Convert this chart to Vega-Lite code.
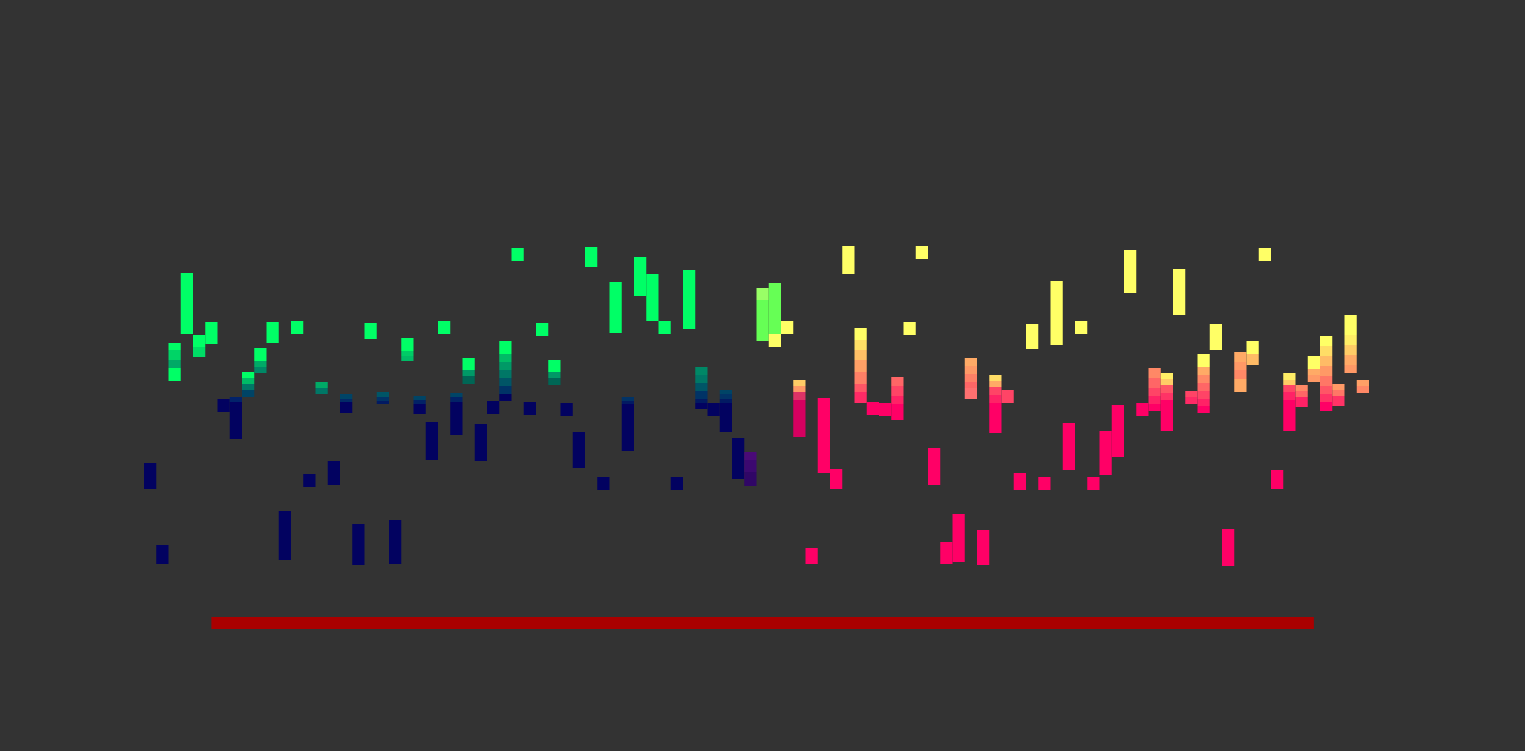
{
  "$schema": "https://vega.github.io/schema/vega-lite/v6.json",
  "width": 1525,
  "height": 751,
  "autosize": {"type": "fit", "contains": "padding"},
  "padding": 0,
  "background": "#333333",
  "config": {"view": {"stroke": null}},
  "datasets": {
    "notes": [
      {"col": 0, "colEnd": 1, "top": 463, "bottom": 489, "hex": "#020260"},
      {"col": 1, "colEnd": 2, "top": 545, "bottom": 564, "hex": "#020260"},
      {"col": 2, "colEnd": 3, "top": 343, "bottom": 350, "hex": "#00ff66"},
      {"col": 2, "colEnd": 3, "top": 350, "bottom": 360, "hex": "#00d466"},
      {"col": 2, "colEnd": 3, "top": 360, "bottom": 368, "hex": "#00aa66"},
      {"col": 2, "colEnd": 3, "top": 368, "bottom": 381, "hex": "#00ff66"},
      {"col": 3, "colEnd": 4, "top": 273, "bottom": 334, "hex": "#00ff66"},
      {"col": 4, "colEnd": 5, "top": 335, "bottom": 347, "hex": "#00ff66"},
      {"col": 4, "colEnd": 5, "top": 347, "bottom": 357, "hex": "#00dd66"},
      {"col": 5, "colEnd": 6, "top": 322, "bottom": 344, "hex": "#00ff66"},
      {"col": 6, "colEnd": 7, "top": 399, "bottom": 412, "hex": "#020260"},
      {"col": 7, "colEnd": 8, "top": 397, "bottom": 402, "hex": "#02226a"},
      {"col": 7, "colEnd": 8, "top": 402, "bottom": 439, "hex": "#020260"},
      {"col": 8, "colEnd": 9, "top": 372, "bottom": 378, "hex": "#00ff66"},
      {"col": 8, "colEnd": 9, "top": 378, "bottom": 384, "hex": "#00bb66"},
      {"col": 8, "colEnd": 9, "top": 384, "bottom": 390, "hex": "#007766"},
      {"col": 8, "colEnd": 9, "top": 390, "bottom": 397, "hex": "#004466"},
      {"col": 9, "colEnd": 10, "top": 348, "bottom": 361, "hex": "#00ff66"},
      {"col": 9, "colEnd": 10, "top": 361, "bottom": 367, "hex": "#00aa66"},
      {"col": 9, "colEnd": 10, "top": 367, "bottom": 373, "hex": "#008866"},
      {"col": 10, "colEnd": 11, "top": 322, "bottom": 343, "hex": "#00ff66"},
      {"col": 11, "colEnd": 12, "top": 511, "bottom": 560, "hex": "#020260"},
      {"col": 12, "colEnd": 13, "top": 321, "bottom": 334, "hex": "#00ff66"},
      {"col": 13, "colEnd": 14, "top": 474, "bottom": 487, "hex": "#020260"},
      {"col": 14, "colEnd": 15, "top": 382, "bottom": 388, "hex": "#00aa66"},
      {"col": 14, "colEnd": 15, "top": 388, "bottom": 394, "hex": "#007766"},
      {"col": 15, "colEnd": 16, "top": 461, "bottom": 485, "hex": "#020260"},
      {"col": 16, "colEnd": 17, "top": 394, "bottom": 399, "hex": "#004466"},
      {"col": 16, "colEnd": 17, "top": 399, "bottom": 402, "hex": "#022a66"},
      {"col": 16, "colEnd": 17, "top": 402, "bottom": 413, "hex": "#020260"},
      {"col": 17, "colEnd": 18, "top": 524, "bottom": 565, "hex": "#020260"},
      {"col": 18, "colEnd": 19, "top": 323, "bottom": 339, "hex": "#00ff66"},
      {"col": 19, "colEnd": 20, "top": 392, "bottom": 397, "hex": "#005566"},
      {"col": 19, "colEnd": 20, "top": 397, "bottom": 401, "hex": "#023366"},
      {"col": 19, "colEnd": 20, "top": 401, "bottom": 404, "hex": "#021a62"},
      {"col": 20, "colEnd": 21, "top": 520, "bottom": 564, "hex": "#020260"},
      {"col": 21, "colEnd": 22, "top": 338, "bottom": 351, "hex": "#00ff66"},
      {"col": 21, "colEnd": 22, "top": 351, "bottom": 356, "hex": "#00cc66"},
      {"col": 21, "colEnd": 22, "top": 356, "bottom": 361, "hex": "#00bb66"},
      {"col": 22, "colEnd": 23, "top": 396, "bottom": 400, "hex": "#004466"},
      {"col": 22, "colEnd": 23, "top": 400, "bottom": 404, "hex": "#022266"},
      {"col": 22, "colEnd": 23, "top": 404, "bottom": 414, "hex": "#020260"},
      {"col": 23, "colEnd": 24, "top": 422, "bottom": 460, "hex": "#020260"},
      {"col": 24, "colEnd": 25, "top": 321, "bottom": 334, "hex": "#00ff66"},
      {"col": 25, "colEnd": 26, "top": 393, "bottom": 397, "hex": "#004466"},
      {"col": 25, "colEnd": 26, "top": 397, "bottom": 402, "hex": "#022266"},
      {"col": 25, "colEnd": 26, "top": 402, "bottom": 435, "hex": "#020260"},
      {"col": 26, "colEnd": 27, "top": 358, "bottom": 370, "hex": "#00ff66"},
      {"col": 26, "colEnd": 27, "top": 370, "bottom": 376, "hex": "#009966"},
      {"col": 26, "colEnd": 27, "top": 376, "bottom": 384, "hex": "#006655"},
      {"col": 27, "colEnd": 28, "top": 424, "bottom": 461, "hex": "#020260"},
      {"col": 28, "colEnd": 29, "top": 401, "bottom": 414, "hex": "#020260"},
      {"col": 29, "colEnd": 30, "top": 341, "bottom": 354, "hex": "#00ff66"},
      {"col": 29, "colEnd": 30, "top": 354, "bottom": 362, "hex": "#00bb66"},
      {"col": 29, "colEnd": 30, "top": 362, "bottom": 370, "hex": "#009966"},
      {"col": 29, "colEnd": 30, "top": 370, "bottom": 378, "hex": "#007766"},
      {"col": 29, "colEnd": 30, "top": 378, "bottom": 386, "hex": "#005566"},
      {"col": 29, "colEnd": 30, "top": 386, "bottom": 394, "hex": "#003366"},
      {"col": 29, "colEnd": 30, "top": 394, "bottom": 401, "hex": "#020260"},
      {"col": 30, "colEnd": 31, "top": 248, "bottom": 261, "hex": "#00ff66"},
      {"col": 31, "colEnd": 32, "top": 402, "bottom": 415, "hex": "#020260"},
      {"col": 32, "colEnd": 33, "top": 323, "bottom": 336, "hex": "#00ff66"},
      {"col": 33, "colEnd": 34, "top": 360, "bottom": 372, "hex": "#00ff66"},
      {"col": 33, "colEnd": 34, "top": 372, "bottom": 378, "hex": "#009966"},
      {"col": 33, "colEnd": 34, "top": 378, "bottom": 385, "hex": "#006655"},
      {"col": 34, "colEnd": 35, "top": 403, "bottom": 416, "hex": "#020260"},
      {"col": 35, "colEnd": 36, "top": 432, "bottom": 468, "hex": "#020260"},
      {"col": 36, "colEnd": 37, "top": 247, "bottom": 267, "hex": "#00ff66"},
      {"col": 37, "colEnd": 38, "top": 477, "bottom": 490, "hex": "#020260"},
      {"col": 38, "colEnd": 39, "top": 282, "bottom": 333, "hex": "#00ff66"},
      {"col": 39, "colEnd": 40, "top": 397, "bottom": 401, "hex": "#023366"},
      {"col": 39, "colEnd": 40, "top": 401, "bottom": 404, "hex": "#021a62"},
      {"col": 39, "colEnd": 40, "top": 404, "bottom": 451, "hex": "#020260"},
      {"col": 40, "colEnd": 41, "top": 257, "bottom": 296, "hex": "#00ff66"},
      {"col": 41, "colEnd": 42, "top": 274, "bottom": 321, "hex": "#00ff66"},
      {"col": 42, "colEnd": 43, "top": 321, "bottom": 334, "hex": "#00ff66"},
      {"col": 43, "colEnd": 44, "top": 477, "bottom": 490, "hex": "#020260"},
      {"col": 44, "colEnd": 45, "top": 270, "bottom": 329, "hex": "#00ff66"},
      {"col": 45, "colEnd": 46, "top": 367, "bottom": 375, "hex": "#008866"},
      {"col": 45, "colEnd": 46, "top": 375, "bottom": 383, "hex": "#007766"},
      {"col": 45, "colEnd": 46, "top": 383, "bottom": 391, "hex": "#005566"},
      {"col": 45, "colEnd": 46, "top": 391, "bottom": 399, "hex": "#003366"},
      {"col": 45, "colEnd": 46, "top": 399, "bottom": 403, "hex": "#021a62"},
      {"col": 45, "colEnd": 46, "top": 403, "bottom": 409, "hex": "#020260"},
      {"col": 46, "colEnd": 47, "top": 403, "bottom": 416, "hex": "#020260"},
      {"col": 47, "colEnd": 48, "top": 390, "bottom": 394, "hex": "#004466"},
      {"col": 47, "colEnd": 48, "top": 394, "bottom": 399, "hex": "#023366"},
      {"col": 47, "colEnd": 48, "top": 399, "bottom": 403, "hex": "#021a62"},
      {"col": 47, "colEnd": 48, "top": 403, "bottom": 432, "hex": "#020260"},
      {"col": 48, "colEnd": 49, "top": 438, "bottom": 479, "hex": "#020260"},
      {"col": 49, "colEnd": 50, "top": 452, "bottom": 460, "hex": "#4a0a78"},
      {"col": 49, "colEnd": 50, "top": 460, "bottom": 472, "hex": "#3c0870"},
      {"col": 49, "colEnd": 50, "top": 472, "bottom": 486, "hex": "#300666"},
      {"col": 50, "colEnd": 51, "top": 288, "bottom": 300, "hex": "#99ff66"},
      {"col": 50, "colEnd": 51, "top": 300, "bottom": 341, "hex": "#66ff55"},
      {"col": 51, "colEnd": 52, "top": 283, "bottom": 334, "hex": "#66ff55"},
      {"col": 51, "colEnd": 52, "top": 334, "bottom": 347, "hex": "#ffff66"},
      {"col": 52, "colEnd": 53, "top": 321, "bottom": 334, "hex": "#ffff66"},
      {"col": 53, "colEnd": 54, "top": 380, "bottom": 386, "hex": "#ffcc66"},
      {"col": 53, "colEnd": 54, "top": 386, "bottom": 392, "hex": "#ff9966"},
      {"col": 53, "colEnd": 54, "top": 392, "bottom": 400, "hex": "#dd3366"},
      {"col": 53, "colEnd": 54, "top": 400, "bottom": 437, "hex": "#d60060"},
      {"col": 54, "colEnd": 55, "top": 548, "bottom": 564, "hex": "#ff0066"},
      {"col": 55, "colEnd": 56, "top": 398, "bottom": 473, "hex": "#ff0066"},
      {"col": 56, "colEnd": 57, "top": 469, "bottom": 489, "hex": "#ff0066"},
      {"col": 57, "colEnd": 58, "top": 246, "bottom": 274, "hex": "#ffff66"},
      {"col": 58, "colEnd": 59, "top": 328, "bottom": 340, "hex": "#ffff66"},
      {"col": 58, "colEnd": 59, "top": 340, "bottom": 350, "hex": "#ffe066"},
      {"col": 58, "colEnd": 59, "top": 350, "bottom": 360, "hex": "#ffc066"},
      {"col": 58, "colEnd": 59, "top": 360, "bottom": 372, "hex": "#ffa066"},
      {"col": 58, "colEnd": 59, "top": 372, "bottom": 384, "hex": "#ff8066"},
      {"col": 58, "colEnd": 59, "top": 384, "bottom": 392, "hex": "#ff5566"},
      {"col": 58, "colEnd": 59, "top": 392, "bottom": 403, "hex": "#ff2a66"},
      {"col": 59, "colEnd": 60, "top": 402, "bottom": 415, "hex": "#ff0066"},
      {"col": 60, "colEnd": 61, "top": 403, "bottom": 416, "hex": "#ff0066"},
      {"col": 61, "colEnd": 62, "top": 377, "bottom": 386, "hex": "#ff6666"},
      {"col": 61, "colEnd": 62, "top": 386, "bottom": 396, "hex": "#ff4466"},
      {"col": 61, "colEnd": 62, "top": 396, "bottom": 404, "hex": "#ff2266"},
      {"col": 61, "colEnd": 62, "top": 404, "bottom": 420, "hex": "#ff0066"},
      {"col": 62, "colEnd": 63, "top": 322, "bottom": 335, "hex": "#ffff66"},
      {"col": 63, "colEnd": 64, "top": 246, "bottom": 259, "hex": "#ffff66"},
      {"col": 64, "colEnd": 65, "top": 448, "bottom": 485, "hex": "#ff0066"},
      {"col": 65, "colEnd": 66, "top": 542, "bottom": 564, "hex": "#ff0066"},
      {"col": 66, "colEnd": 67, "top": 514, "bottom": 562, "hex": "#ff0066"},
      {"col": 67, "colEnd": 68, "top": 358, "bottom": 366, "hex": "#ffaa66"},
      {"col": 67, "colEnd": 68, "top": 366, "bottom": 374, "hex": "#ff9966"},
      {"col": 67, "colEnd": 68, "top": 374, "bottom": 382, "hex": "#ff8066"},
      {"col": 67, "colEnd": 68, "top": 382, "bottom": 388, "hex": "#ff6666"},
      {"col": 67, "colEnd": 68, "top": 388, "bottom": 399, "hex": "#ff7070"},
      {"col": 68, "colEnd": 69, "top": 530, "bottom": 565, "hex": "#ff0066"},
      {"col": 69, "colEnd": 70, "top": 375, "bottom": 381, "hex": "#ffdd66"},
      {"col": 69, "colEnd": 70, "top": 381, "bottom": 387, "hex": "#ffaa66"},
      {"col": 69, "colEnd": 70, "top": 387, "bottom": 395, "hex": "#ff4466"},
      {"col": 69, "colEnd": 70, "top": 395, "bottom": 403, "hex": "#ff2266"},
      {"col": 69, "colEnd": 70, "top": 403, "bottom": 433, "hex": "#ff0066"},
      {"col": 70, "colEnd": 71, "top": 390, "bottom": 403, "hex": "#ff4466"},
      {"col": 71, "colEnd": 72, "top": 473, "bottom": 490, "hex": "#ff0066"},
      {"col": 72, "colEnd": 73, "top": 324, "bottom": 349, "hex": "#ffff66"},
      {"col": 73, "colEnd": 74, "top": 477, "bottom": 490, "hex": "#ff0066"},
      {"col": 74, "colEnd": 75, "top": 281, "bottom": 345, "hex": "#ffff66"},
      {"col": 75, "colEnd": 76, "top": 423, "bottom": 470, "hex": "#ff0066"},
      {"col": 76, "colEnd": 77, "top": 321, "bottom": 334, "hex": "#ffff66"},
      {"col": 77, "colEnd": 78, "top": 477, "bottom": 490, "hex": "#ff0066"},
      {"col": 78, "colEnd": 79, "top": 431, "bottom": 475, "hex": "#ff0066"},
      {"col": 79, "colEnd": 80, "top": 405, "bottom": 457, "hex": "#ff0066"},
      {"col": 80, "colEnd": 81, "top": 250, "bottom": 293, "hex": "#ffff66"},
      {"col": 81, "colEnd": 82, "top": 403, "bottom": 416, "hex": "#ff0066"},
      {"col": 82, "colEnd": 83, "top": 368, "bottom": 378, "hex": "#ff8866"},
      {"col": 82, "colEnd": 83, "top": 378, "bottom": 388, "hex": "#ff6666"},
      {"col": 82, "colEnd": 83, "top": 388, "bottom": 396, "hex": "#ff4466"},
      {"col": 82, "colEnd": 83, "top": 396, "bottom": 404, "hex": "#ff2266"},
      {"col": 82, "colEnd": 83, "top": 404, "bottom": 411, "hex": "#ff0066"},
      {"col": 83, "colEnd": 84, "top": 373, "bottom": 379, "hex": "#ffee66"},
      {"col": 83, "colEnd": 84, "top": 379, "bottom": 385, "hex": "#ffcc66"},
      {"col": 83, "colEnd": 84, "top": 385, "bottom": 393, "hex": "#ff5566"},
      {"col": 83, "colEnd": 84, "top": 393, "bottom": 400, "hex": "#ff3366"},
      {"col": 83, "colEnd": 84, "top": 400, "bottom": 431, "hex": "#ff0066"},
      {"col": 84, "colEnd": 85, "top": 269, "bottom": 315, "hex": "#ffff66"},
      {"col": 85, "colEnd": 86, "top": 391, "bottom": 397, "hex": "#ff4466"},
      {"col": 85, "colEnd": 86, "top": 397, "bottom": 404, "hex": "#ff2a66"},
      {"col": 86, "colEnd": 87, "top": 354, "bottom": 367, "hex": "#ffff66"},
      {"col": 86, "colEnd": 87, "top": 367, "bottom": 375, "hex": "#ffaa66"},
      {"col": 86, "colEnd": 87, "top": 375, "bottom": 383, "hex": "#ff8866"},
      {"col": 86, "colEnd": 87, "top": 383, "bottom": 391, "hex": "#ff6666"},
      {"col": 86, "colEnd": 87, "top": 391, "bottom": 399, "hex": "#ff4466"},
      {"col": 86, "colEnd": 87, "top": 399, "bottom": 406, "hex": "#ff2266"},
      {"col": 86, "colEnd": 87, "top": 406, "bottom": 413, "hex": "#ff0066"},
      {"col": 87, "colEnd": 88, "top": 324, "bottom": 350, "hex": "#ffff66"},
      {"col": 88, "colEnd": 89, "top": 529, "bottom": 566, "hex": "#ff0066"},
      {"col": 89, "colEnd": 90, "top": 352, "bottom": 362, "hex": "#ffaa66"},
      {"col": 89, "colEnd": 90, "top": 362, "bottom": 370, "hex": "#ff9966"},
      {"col": 89, "colEnd": 90, "top": 370, "bottom": 379, "hex": "#ff8866"},
      {"col": 89, "colEnd": 90, "top": 379, "bottom": 392, "hex": "#ffaa66"},
      {"col": 90, "colEnd": 91, "top": 341, "bottom": 354, "hex": "#ffff66"},
      {"col": 90, "colEnd": 91, "top": 354, "bottom": 365, "hex": "#ffbb66"},
      {"col": 91, "colEnd": 92, "top": 248, "bottom": 261, "hex": "#ffff66"},
      {"col": 92, "colEnd": 93, "top": 470, "bottom": 489, "hex": "#ff0066"},
      {"col": 93, "colEnd": 94, "top": 373, "bottom": 380, "hex": "#ffee66"},
      {"col": 93, "colEnd": 94, "top": 380, "bottom": 385, "hex": "#ffcc66"},
      {"col": 93, "colEnd": 94, "top": 385, "bottom": 392, "hex": "#ff4466"},
      {"col": 93, "colEnd": 94, "top": 392, "bottom": 400, "hex": "#ff2266"},
      {"col": 93, "colEnd": 94, "top": 400, "bottom": 431, "hex": "#ff0066"},
      {"col": 94, "colEnd": 95, "top": 385, "bottom": 391, "hex": "#ff8866"},
      {"col": 94, "colEnd": 95, "top": 391, "bottom": 397, "hex": "#ff6666"},
      {"col": 94, "colEnd": 95, "top": 397, "bottom": 407, "hex": "#ff2266"},
      {"col": 95, "colEnd": 96, "top": 356, "bottom": 369, "hex": "#ffff66"},
      {"col": 95, "colEnd": 96, "top": 369, "bottom": 375, "hex": "#ffaa66"},
      {"col": 95, "colEnd": 96, "top": 375, "bottom": 382, "hex": "#ff9966"},
      {"col": 96, "colEnd": 97, "top": 336, "bottom": 346, "hex": "#ffff66"},
      {"col": 96, "colEnd": 97, "top": 346, "bottom": 356, "hex": "#ffdd66"},
      {"col": 96, "colEnd": 97, "top": 356, "bottom": 366, "hex": "#ffbb66"},
      {"col": 96, "colEnd": 97, "top": 366, "bottom": 376, "hex": "#ff9966"},
      {"col": 96, "colEnd": 97, "top": 376, "bottom": 386, "hex": "#ff7766"},
      {"col": 96, "colEnd": 97, "top": 386, "bottom": 394, "hex": "#ff5566"},
      {"col": 96, "colEnd": 97, "top": 394, "bottom": 402, "hex": "#ff3366"},
      {"col": 96, "colEnd": 97, "top": 402, "bottom": 411, "hex": "#ff0066"},
      {"col": 97, "colEnd": 98, "top": 384, "bottom": 390, "hex": "#ff9966"},
      {"col": 97, "colEnd": 98, "top": 390, "bottom": 396, "hex": "#ff7766"},
      {"col": 97, "colEnd": 98, "top": 396, "bottom": 406, "hex": "#ff3366"},
      {"col": 98, "colEnd": 99, "top": 315, "bottom": 335, "hex": "#ffff66"},
      {"col": 98, "colEnd": 99, "top": 335, "bottom": 345, "hex": "#ffee66"},
      {"col": 98, "colEnd": 99, "top": 345, "bottom": 355, "hex": "#ffcc66"},
      {"col": 98, "colEnd": 99, "top": 355, "bottom": 365, "hex": "#ffaa66"},
      {"col": 98, "colEnd": 99, "top": 365, "bottom": 373, "hex": "#ff9966"},
      {"col": 99, "colEnd": 100, "top": 380, "bottom": 386, "hex": "#ffa066"},
      {"col": 99, "colEnd": 100, "top": 386, "bottom": 393, "hex": "#ff8866"}
    ],
    "progress": [
      {"col": 5.5, "colEnd": 95.5, "top": 617, "bottom": 629}
    ]
  },
  "layer": [
    {
      "data": {"name": "notes"},
      "mark": {"type": "rect"},
      "encoding": {
        "x": {
          "field": "col",
          "type": "quantitative",
          "axis": null,
          "scale": {"domain": [-11.7551, 112.7347], "nice": false, "zero": false}
        },
        "x2": {"field": "colEnd"},
        "y": {
          "field": "top",
          "type": "quantitative",
          "axis": null,
          "scale": {"domain": [0, 751], "reverse": true, "nice": false, "zero": false}
        },
        "y2": {"field": "bottom"},
        "color": {"field": "hex", "type": "nominal", "scale": null, "legend": null}
      }
    },
    {
      "data": {"name": "progress"},
      "mark": {"type": "rect", "color": "#aa0000"},
      "encoding": {
        "x": {"field": "col", "type": "quantitative"},
        "x2": {"field": "colEnd"},
        "y": {"field": "top", "type": "quantitative"},
        "y2": {"field": "bottom"}
      }
    }
  ]
}
